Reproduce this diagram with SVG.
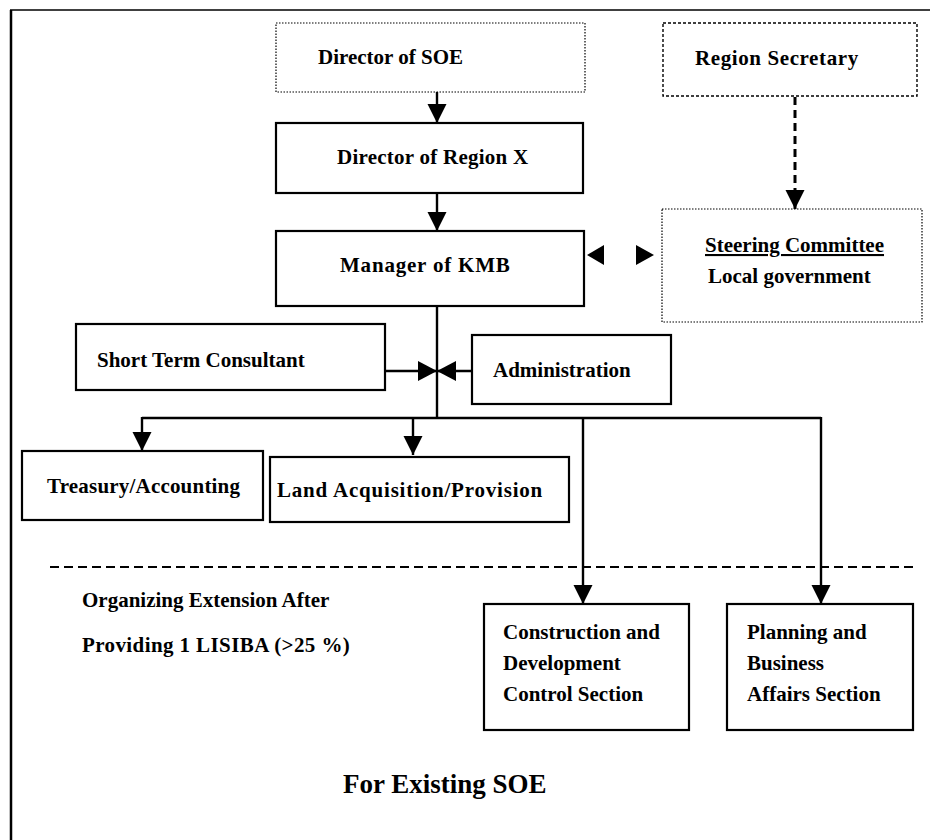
<svg xmlns="http://www.w3.org/2000/svg" width="930" height="840" viewBox="0 0 930 840">
  <defs>
    <style>
      .lbl { font-family: "Liberation Serif", "Times New Roman", serif; font-weight: bold; font-size: 21px; fill: #000; }
      .title { font-size: 27px; }
      .box { fill: #fff; stroke: #000; stroke-width: 2.2; }
      .dot { fill: #fff; stroke: #000; stroke-width: 1.2; stroke-dasharray: 1.5 1.5; }
      .dash { fill: #fff; stroke: #000; stroke-width: 1.4; stroke-dasharray: 3 2; }
      .wire { fill: none; stroke: #000; stroke-width: 2.4; }
      .wire-dash { fill: none; stroke: #000; stroke-width: 3; stroke-dasharray: 8 5; }
      .divider { fill: none; stroke: #000; stroke-width: 2; stroke-dasharray: 9 5; }
      .frame { fill: none; stroke: #000; }
    </style>
    <marker id="head" viewBox="0 0 10 10" refX="10" refY="5" markerWidth="8" markerHeight="8" markerUnits="strokeWidth" orient="auto">
      <path d="M0,0 L10,5 L0,10 z" fill="#000"/>
    </marker>
    <marker id="headDash" viewBox="0 0 10 10" refX="10" refY="5" markerWidth="6.5" markerHeight="6.5" markerUnits="strokeWidth" orient="auto">
      <path d="M0,0 L10,5 L0,10 z" fill="#000"/>
    </marker>
  </defs>

  <rect width="930" height="840" fill="#fff"/>

  <!-- page frame (left and top edges) -->
  <path class="frame" d="M11,840 V10" stroke-width="2.5"/>
  <path class="frame" d="M10,10 H930" stroke-width="1.5"/>

  <!-- connectors -->
  <g id="connectors">
    <path class="wire" d="M437,92 V123" marker-end="url(#head)"/>
    <path class="wire" d="M437,193 V231" marker-end="url(#head)"/>
    <path class="wire" d="M437,306 V418"/>
    <path class="wire" d="M142,418 H821"/>
    <path class="wire" d="M142,417 V451" marker-end="url(#head)"/>
    <path class="wire" d="M413,417 V455" marker-end="url(#head)"/>
    <path class="wire" d="M583,417 V604" marker-end="url(#head)"/>
    <path class="wire" d="M821,417 V604" marker-end="url(#head)"/>
    <path class="wire" d="M385,371 H437" stroke-width="1.6"/>
    <path class="wire" d="M472,371 H437" stroke-width="1.6"/>
    <path d="M418,361 L437,371 L418,381 z" fill="#000"/>
    <path d="M456,361 L437,371 L456,381 z" fill="#000"/>
    <path class="wire-dash" d="M795,97 V209" marker-end="url(#headDash)"/>
    <!-- two-way link between manager and steering committee -->
    <path d="M604,245 L587,255 L604,265 z" fill="#000"/>
    <path d="M636,245 L654,255 L636,265 z" fill="#000"/>
  </g>

  <!-- boundary of the extension stage -->
  <path class="divider" d="M50,567 H918"/>

  <g id="director-soe">
    <rect class="dot" x="276" y="23" width="309" height="69"/>
    <text class="lbl" x="318" y="64">Director of SOE</text>
  </g>

  <g id="region-secretary">
    <rect class="dash" x="663" y="23" width="254" height="73"/>
    <text class="lbl" x="695" y="65" letter-spacing="0.6">Region Secretary</text>
  </g>

  <g id="director-region">
    <rect class="box" x="276" y="123" width="307" height="70"/>
    <text class="lbl" x="337" y="164" letter-spacing="0.25">Director of Region X</text>
  </g>

  <g id="manager-kmb">
    <rect class="box" x="276" y="231" width="308" height="75"/>
    <text class="lbl" x="340" y="272" letter-spacing="0.8">Manager of KMB</text>
  </g>

  <g id="steering-committee">
    <rect class="dot" x="662" y="209" width="260" height="113"/>
    <text class="lbl" x="705" y="252" text-decoration="underline">Steering Committee</text>
    <text class="lbl" x="708" y="283">Local government</text>
  </g>

  <g id="short-term-consultant">
    <rect class="box" x="76" y="324" width="309" height="66"/>
    <text class="lbl" x="97" y="367">Short Term Consultant</text>
  </g>

  <g id="administration">
    <rect class="box" x="472" y="335" width="199" height="69"/>
    <text class="lbl" x="493" y="377">Administration</text>
  </g>

  <g id="treasury">
    <rect class="box" x="22" y="451" width="241" height="69"/>
    <text class="lbl" x="47" y="493" letter-spacing="0.2">Treasury/Accounting</text>
  </g>

  <g id="land-acquisition">
    <rect class="box" x="270" y="457" width="299" height="65"/>
    <text class="lbl" x="277" y="497" letter-spacing="0.8">Land Acquisition/Provision</text>
  </g>

  <g id="extension-note">
    <text class="lbl" x="82" y="607">Organizing Extension After</text>
    <text class="lbl" x="82" y="652" letter-spacing="0.4">Providing 1 LISIBA (&gt;25 %)</text>
  </g>

  <g id="construction-section">
    <rect class="box" x="484" y="604" width="205" height="126"/>
    <text class="lbl" x="503" y="639">Construction and</text>
    <text class="lbl" x="503" y="670">Development</text>
    <text class="lbl" x="503" y="701">Control Section</text>
  </g>

  <g id="planning-section">
    <rect class="box" x="727" y="604" width="186" height="126"/>
    <text class="lbl" x="747" y="639">Planning and</text>
    <text class="lbl" x="747" y="670">Business</text>
    <text class="lbl" x="747" y="701">Affairs Section</text>
  </g>

  <text class="lbl title" x="343" y="793">For Existing SOE</text>
</svg>
